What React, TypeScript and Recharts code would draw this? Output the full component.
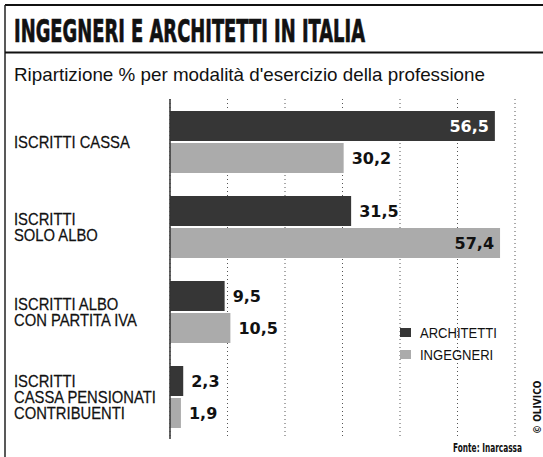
// Ingegneri e architetti in Italia — horizontal grouped bars, newspaper style
import { BarChart, Bar, XAxis, YAxis, CartesianGrid, LabelList, Legend } from "recharts";

const categories: string[][] = [
  ["ISCRITTI CASSA"],
  ["ISCRITTI", "SOLO ALBO"],
  ["ISCRITTI ALBO", "CON PARTITA IVA"],
  ["ISCRITTI", "CASSA PENSIONATI", "CONTRIBUENTI"],
];
const architetti = [56.5, 31.5, 9.5, 2.3];
const ingegneri = [30.2, 57.4, 10.5, 1.9];
const gridTicks = [10, 20, 30, 40, 50, 60];
const seriesNames = ["ARCHITETTI", "INGEGNERI"];

const TITLE = "INGEGNERI E ARCHITETTI IN ITALIA";
const SUBTITLE = "Ripartizione % per modalità d'esercizio della professione";
const SOURCE = "Fonte: Inarcassa";

const SANS = "'Liberation Sans', Arial, sans-serif";
const COND = "'DejaVu Sans Condensed', 'Liberation Sans', sans-serif";
const DARK = "#363636";
const LIGHT = "#ababab";

const data = categories.map((lines, i) => ({
  name: lines.join(" "),
  architetti: architetti[i],
  ingegneri: ingegneri[i],
}));

const fmt = (v: number) => v.toFixed(1).replace(".", ",");

function CategoryTick(props: any) {
  const { y, payload } = props;
  const lines = categories[payload.index] ?? [String(payload.value)];
  const first = y - (lines.length - 1) * 8 + 6.5;
  // Liberation Sans squeezed horizontally to get a condensed grotesque
  return (
    <text transform="translate(14,0) scale(0.87,1)" fill="#111" stroke="#111" strokeWidth={0.25}
      fontFamily={SANS} fontSize={17}>
      {lines.map((l, i) => (
        <tspan key={i} x={0} y={first + i * 16}>{l}</tspan>
      ))}
    </text>
  );
}

const EmptyTick = () => <g />;

// values that nearly fill the axis sit inside the bar end
const makeLabel = (insideColor: string) => (props: any) => {
  const { x, y, width, height, value } = props;
  const v = Number(value);
  const inside = v > 45;
  return (
    <text
      x={inside ? x + width - 6 : x + width + 8}
      y={y + height / 2 + 6}
      textAnchor={inside ? "end" : "start"}
      fill={inside ? insideColor : "#111"}
      fontFamily="'DejaVu Sans', sans-serif"
      fontWeight="bold"
      fontSize={16}
    >
      {fmt(v)}
    </text>
  );
};

function LegendBox() {
  const fills = [DARK, LIGHT];
  return (
    <svg width={120} height={44} style={{ display: "block" }}>
      {seriesNames.map((n, i) => (
        <g key={n}>
          <rect x={0} y={6 + i * 22} width={11} height={9} fill={fills[i]} />
          <text transform={`translate(20,${16 + i * 22}) scale(0.9,1)`} fontFamily={SANS} fontSize={14.5} fill="#111">
            {n}
          </text>
        </g>
      ))}
    </svg>
  );
}

export default function App() {
  return (
    <div style={{ position: "absolute", left: 0, top: 0, width: 543, height: 457, background: "#fff", overflow: "hidden" }}>
      <svg width={543} height={457} style={{ position: "absolute", left: 0, top: 0 }}>
        <line x1={5} y1={5} x2={543} y2={5} stroke="#111" strokeWidth={2} />
        <line x1={5} y1={5} x2={5} y2={457} stroke="#222" strokeWidth={1.5} />
        <line x1={5} y1={52.5} x2={543} y2={52.5} stroke="#111" strokeWidth={2} />
        <text x={14} y={41.5} fontFamily={COND} fontWeight="bold" fontSize={32} fill="#111"
          stroke="#111" strokeWidth={0.7} textLength={351} lengthAdjust="spacingAndGlyphs">
          {TITLE}
        </text>
        <text x={14} y={80.5} fontFamily={SANS} fontSize={19} fill="#111"
          textLength={471} lengthAdjust="spacingAndGlyphs">
          {SUBTITLE}
        </text>
        <text x={453} y={451.5} fontFamily={COND} fontWeight="bold" fontSize={12.5} fill="#111"
          textLength={69} lengthAdjust="spacingAndGlyphs">
          {SOURCE}
        </text>
        <text transform="translate(541,434) rotate(-90)" fontFamily={COND} fontWeight="bold" fontSize={10} fill="#111">
          © OLIVICO
        </text>
      </svg>
      <div style={{ position: "absolute", left: 0, top: 0 }}>
        <BarChart
          width={543}
          height={457}
          data={data}
          layout="vertical"
          margin={{ top: 99, right: 28, bottom: 18, left: 14 }}
          barSize={30}
          barGap={2}
        >
          <CartesianGrid horizontal={false} vertical stroke="#555" strokeDasharray="1 3" />
          <XAxis type="number" domain={[0, 60]} ticks={gridTicks} tick={<EmptyTick />} axisLine={false} tickLine={false} height={0} />
          <YAxis
            type="category"
            dataKey="name"
            width={156}
            tick={<CategoryTick />}
            tickLine={false}
            axisLine={{ stroke: "#333", strokeWidth: 1.5 }}
          />
          <Legend
            layout="vertical"
            align="center"
            verticalAlign="middle"
            content={<LegendBox />}
            wrapperStyle={{ position: "absolute", left: 400, top: 322, width: 120 }}
          />
          <Bar dataKey="architetti" name={seriesNames[0]} fill={DARK} isAnimationActive={false}>
            <LabelList dataKey="architetti" content={makeLabel("#fff")} />
          </Bar>
          <Bar dataKey="ingegneri" name={seriesNames[1]} fill={LIGHT} isAnimationActive={false}>
            <LabelList dataKey="ingegneri" content={makeLabel("#111")} />
          </Bar>
        </BarChart>
      </div>
    </div>
  );
}
